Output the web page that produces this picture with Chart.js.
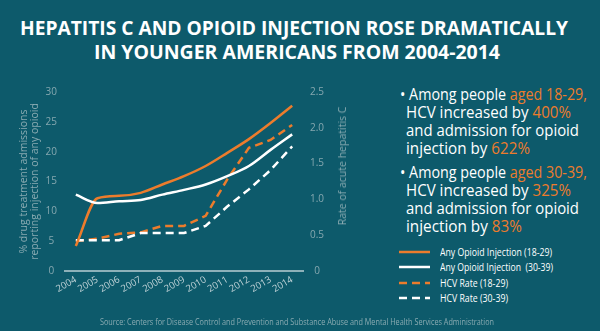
<!DOCTYPE html>
<html>
<head>
<meta charset="utf-8">
<script src="https://cdn.jsdelivr.net/npm/chart.js@4/dist/chart.umd.min.js"></script>
<style>
  html, body { margin:0; padding:0; }
  body { width:600px; height:331px; overflow:hidden; background:#0d5a6b; position:relative; font-family:"Open Sans", sans-serif; }
  #title { position:absolute; left:0; top:0; width:600px; color:#fff; font-weight:700; font-size:20px; }
  #title .ln { position:absolute; white-space:nowrap; transform-origin:0 0; line-height:20px; }
  #chartBox { position:absolute; left:0; top:0; width:370px; height:331px; }
  #rtitle { position:absolute; left:342px; top:166px; transform:translate(-50%,-50%) rotate(-90deg); color:#8aabb2; font-size:10.5px; white-space:nowrap; }
  #panel { position:absolute; left:398px; top:82px; color:#fff; font-size:16.5px; }
  #panel .ln { position:absolute; white-space:nowrap; transform-origin:0 0; line-height:18px; }
  .or { color:#ec7c2c; }
  #legend { position:absolute; left:399px; top:246px; font-size:11px; color:#fff; }
  #legend .row { position:absolute; left:0; height:14px; white-space:nowrap; }
  #legend .tx { position:absolute; left:41px; top:-2px; transform-origin:0 0; white-space:nowrap; }
  #source { position:absolute; left:100px; top:315px; font-size:9.5px; color:#8aabb2; white-space:nowrap; transform-origin:0 0; }
</style>
</head>
<body>
<div id="title">
  <div class="ln" id="t1" style="left:20px;top:18px;">HEPATITIS C AND OPIOID INJECTION ROSE DRAMATICALLY</div>
  <div class="ln" id="t2" style="left:94px;top:42px;">IN YOUNGER AMERICANS FROM 2004-2014</div>
</div>
<div id="chartBox"><canvas id="c"></canvas></div>
<div id="rtitle">Rate of acute hepatitis C</div>
<div id="panel">
  <div class="ln" data-w="187" style="left:2px;top:3px;">• Among people <span class="or">aged 18-29,</span></div>
  <div class="ln" data-w="165" style="left:8px;top:21px;">HCV increased by <span class="or">400%</span></div>
  <div class="ln" data-w="173" style="left:8px;top:39px;">and admission for opioid</div>
  <div class="ln" data-w="124" style="left:8px;top:57px;">injection by <span class="or">622%</span></div>
  <div class="ln" data-w="187" style="left:2px;top:81px;">• Among people <span class="or">aged 30-39,</span></div>
  <div class="ln" data-w="165" style="left:8px;top:99px;">HCV increased by <span class="or">325%</span></div>
  <div class="ln" data-w="173" style="left:8px;top:117px;">and admission for opioid</div>
  <div class="ln" data-w="116" style="left:8px;top:135px;">injection by <span class="or">83%</span></div>
</div>
<div id="legend"></div>
<div id="source">Source: Centers for Disease Control and Prevention and Substance Abuse and Mental Health Services Administration</div>
<script>
const years = ['2004','2005','2006','2007','2008','2009','2010','2011','2012','2013','2014'];
const anyOpioid1829 = [4.2, 12.2, 12.6, 13.1, 14.5, 15.9, 17.6, 19.8, 22.1, 24.8, 27.7];
const anyOpioid3039 = [12.8, 11.4, 11.7, 11.9, 12.8, 13.6, 14.5, 15.9, 17.6, 20.3, 22.9];
const hcvRate1829 = [0.42, 0.45, 0.52, 0.54, 0.63, 0.63, 0.77, 1.28, 1.72, 1.83, 2.04];
const hcvRate3039 = [0.43, 0.43, 0.43, 0.53, 0.53, 0.53, 0.63, 0.90, 1.14, 1.41, 1.74];
const leftTicks = [0, 5, 10, 15, 20, 25, 30];
const rightTicks = [0, 0.5, 1, 1.5, 2, 2.5];
const seriesNames = ['Any Opioid Injection (18-29)', 'Any Opioid Injection\u00a0 (30-39)', 'HCV Rate (18-29)', 'HCV Rate (30-39)'];
const legendWidths = [112, 113, 68, 68];

const ORANGE = '#ec7c2c', WHITE = '#ffffff';
const tickColor = '#86a8b0';

function fitW(el, w){
  el.style.display = 'inline-block';
  const cw = el.getBoundingClientRect().width;
  if (cw > 0) el.style.transform = 'scaleX(' + (w / cw) + ')';
}
fitW(document.getElementById('t1'), 548);
fitW(document.getElementById('t2'), 406);
document.querySelectorAll('#panel .ln').forEach(el => fitW(el, +el.dataset.w));
fitW(document.getElementById('source'), 394);

const styles = [
  {color: ORANGE, dash: []},
  {color: WHITE, dash: []},
  {color: ORANGE, dash: [8, 5]},
  {color: WHITE, dash: [8, 5]}
];
const legend = document.getElementById('legend');
seriesNames.forEach((n, i) => {
  const row = document.createElement('div');
  row.className = 'row';
  row.style.top = (i * 15.3) + 'px';
  const sw = document.createElement('canvas');
  sw.width = 31; sw.height = 4;
  sw.style.position = 'absolute'; sw.style.left = '0'; sw.style.top = '4px';
  const cx = sw.getContext('2d');
  cx.strokeStyle = styles[i].color; cx.lineWidth = 2.5; cx.setLineDash(styles[i].dash);
  cx.beginPath(); cx.moveTo(0, 2); cx.lineTo(31, 2); cx.stroke();
  const tx = document.createElement('div');
  tx.className = 'tx';
  tx.textContent = n;
  row.appendChild(sw); row.appendChild(tx);
  legend.appendChild(row);
  fitW(tx, legendWidths[i]);
});

Chart.defaults.font.family = '"Open Sans", sans-serif';

new Chart(document.getElementById('c'), {
  type: 'line',
  data: {
    labels: years,
    datasets: [
      {label: seriesNames[0], data: anyOpioid1829, yAxisID: 'y', borderColor: ORANGE, borderWidth: 2.5, pointRadius: 0, cubicInterpolationMode: 'monotone', order: 1},
      {label: seriesNames[1], data: anyOpioid3039, yAxisID: 'y', borderColor: WHITE, borderWidth: 2.5, pointRadius: 0, cubicInterpolationMode: 'monotone', order: 0},
      {label: seriesNames[2], data: hcvRate1829, yAxisID: 'y1', borderColor: ORANGE, borderWidth: 2.5, borderDash: [8, 5], pointRadius: 0, tension: 0, order: 3},
      {label: seriesNames[3], data: hcvRate3039, yAxisID: 'y1', borderColor: WHITE, borderWidth: 2.5, borderDash: [8, 5], pointRadius: 0, tension: 0, order: 2}
    ]
  },
  options: {
    responsive: true,
    maintainAspectRatio: false,
    animation: false,
    layout: {padding: {left: 0, top: 92, right: 17, bottom: 20}},
    plugins: {legend: {display: false}, tooltip: {enabled: false}},
    scales: {
      x: {
        type: 'category',
        offset: true,
        grid: {display: false, drawTicks: false},
        border: {display: true, color: '#8db1b9', width: 2},
        ticks: {color: '#c3d5d9', font: {size: 9.5}, minRotation: 30, maxRotation: 30, padding: 3, autoSkip: false},
        afterFit: s => { s.height = 40; }
      },
      y: {
        position: 'left',
        min: 0, max: 30,
        afterBuildTicks: s => { s.ticks = leftTicks.map(v => ({value: v})); },
        grid: {display: false, drawTicks: false},
        border: {display: false},
        ticks: {color: tickColor, font: {size: 10}, crossAlign: 'center', padding: 8},
        title: {display: true, text: ['% drug treatment admissions', 'reporting injection of any opioid'], color: '#8aabb2', font: {size: 10.5, lineHeight: 1.0}, padding: {top: 19, bottom: 0}},
        afterFit: s => { s.width = 65; }
      },
      y1: {
        position: 'right',
        min: 0, max: 2.5,
        afterBuildTicks: s => { s.ticks = rightTicks.map(v => ({value: v})); },
        grid: {display: false, drawTicks: false},
        border: {display: false},
        ticks: {color: tickColor, font: {size: 10}, crossAlign: 'center', padding: 7},
        afterFit: s => { s.width = 50; }
      }
    }
  }
});
</script>
</body>
</html>
